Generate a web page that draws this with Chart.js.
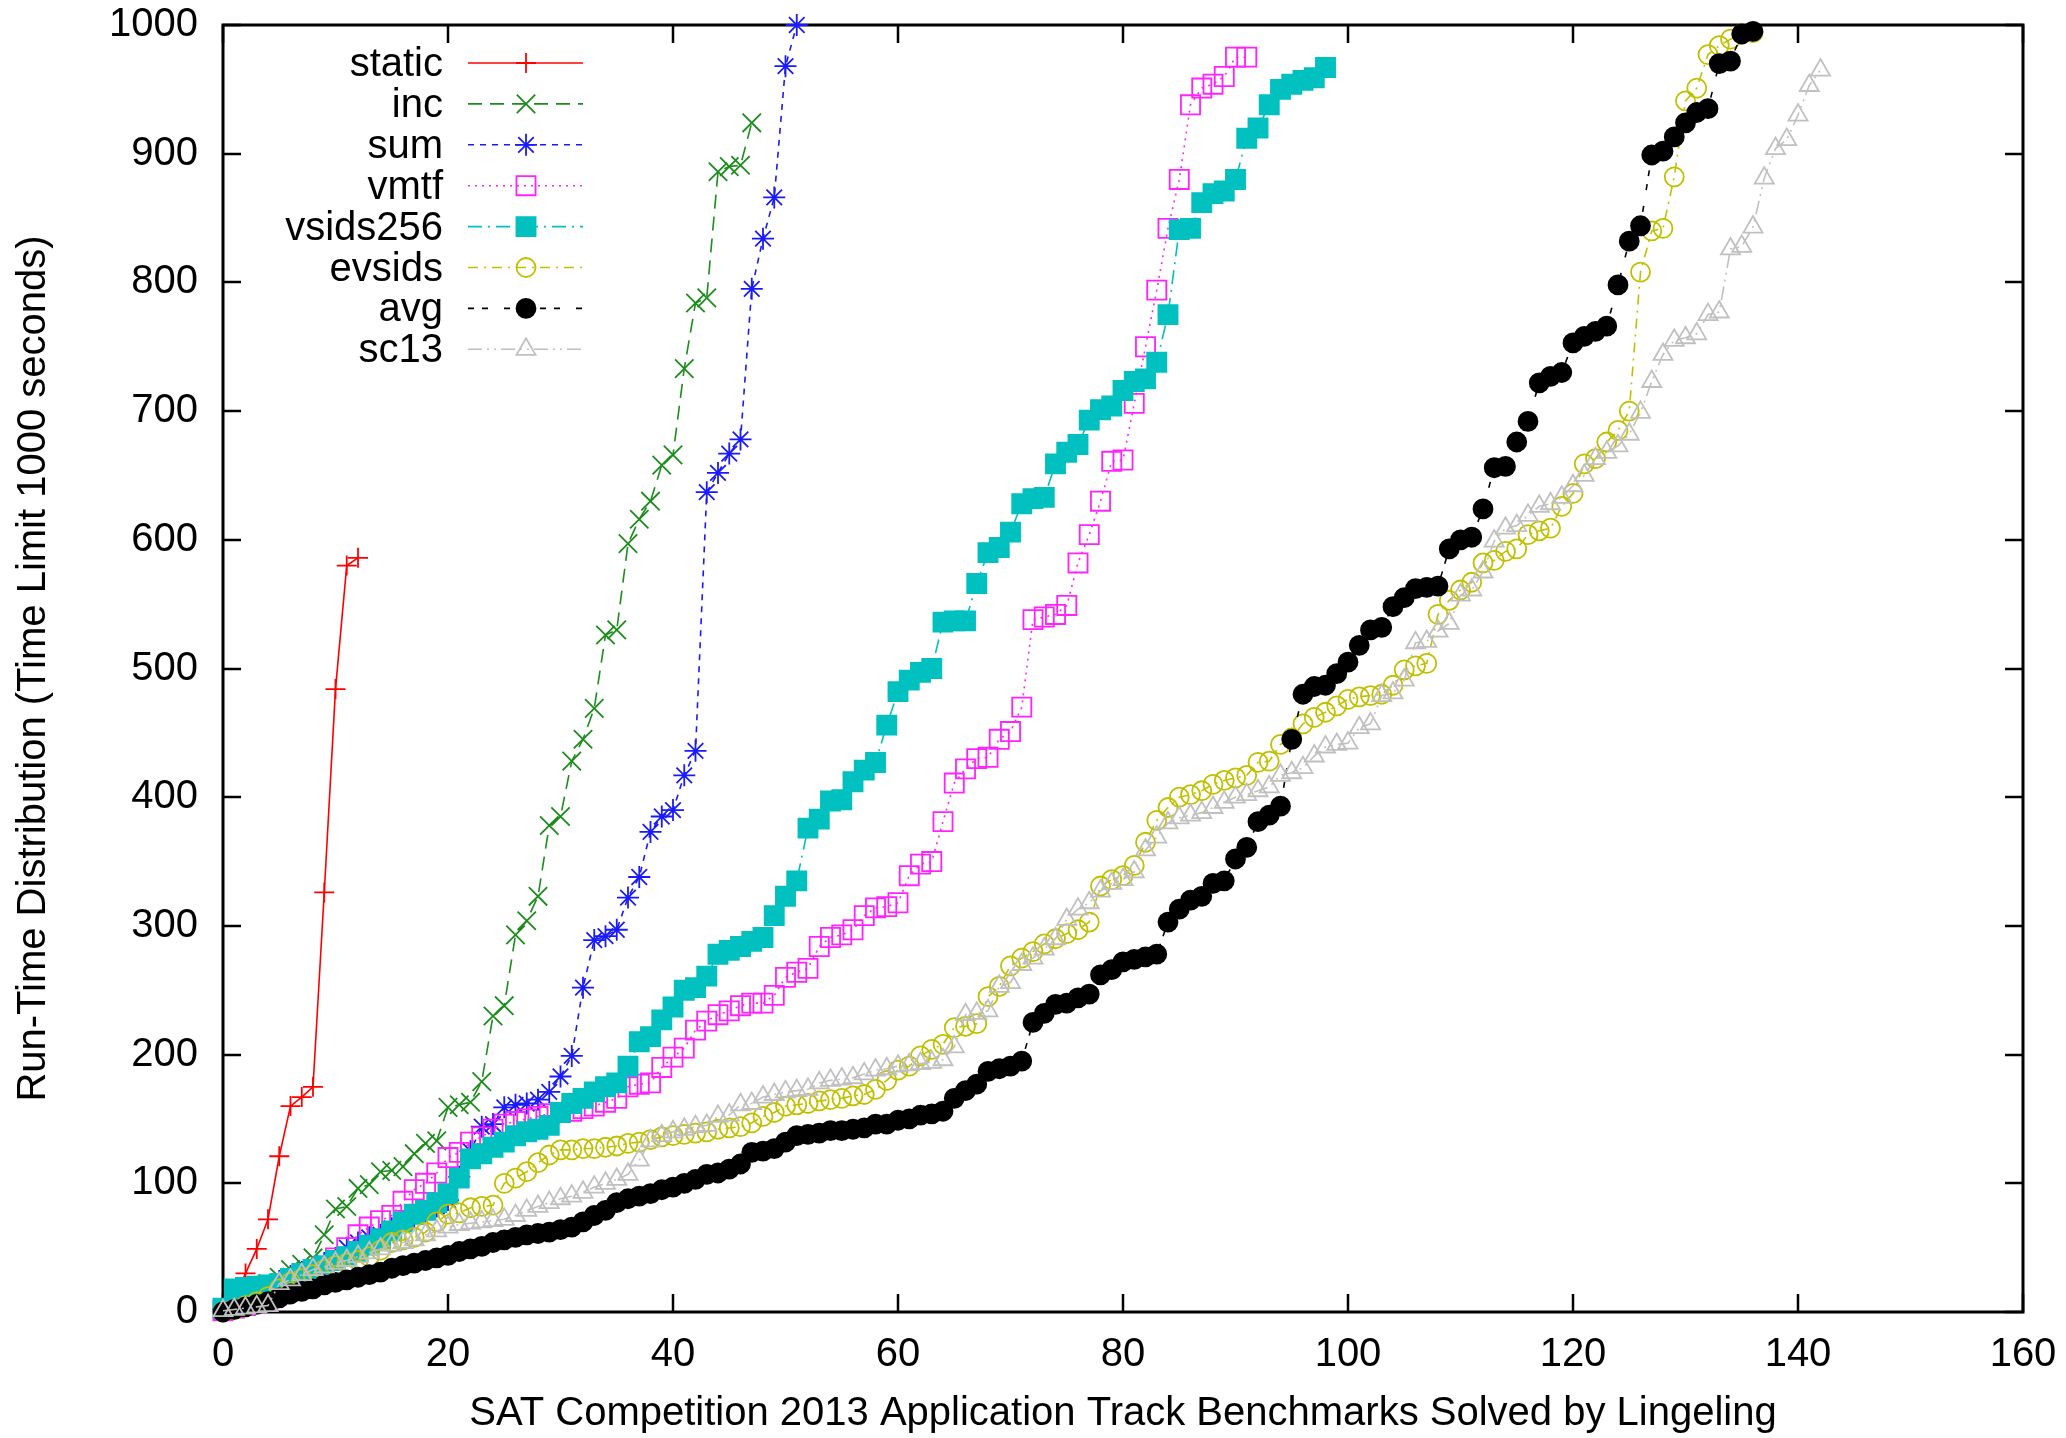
<!DOCTYPE html>
<html>
<head>
<meta charset="utf-8">
<title>Run-Time Distribution</title>
<script src="https://cdn.jsdelivr.net/npm/chart.js@4.4.1/dist/chart.umd.min.js"></script>
<style>
  html, body { margin: 0; padding: 0; background: #ffffff; }
  #wrap { width: 2066px; height: 1438px; }
</style>
</head>
<body>
<div id="wrap"><canvas id="rtd" width="2066" height="1438"></canvas></div>
<script>
// Axis ticks and titles
const X_TICKS = [0, 20, 40, 60, 80, 100, 120, 140, 160];
const Y_TICKS = [0, 100, 200, 300, 400, 500, 600, 700, 800, 900, 1000];
const X_TITLE = 'SAT Competition 2013 Application Track Benchmarks Solved by Lingeling';
const Y_TITLE = 'Run-Time Distribution (Time Limit 1000 seconds)';

// Run times (seconds), sorted; x is the number of solved benchmarks (index)
const staticTimes = [2, 10, 30, 49, 72, 121, 160, 167, 175, 326, 484, 580, 586];

const incTimes = [
  1, 5, 10, 15, 22, 27, 33, 37, 42, 60,
  80, 82, 96, 99, 109, 110, 113, 123, 131, 133,
  159, 161, 163, 179, 230, 238, 293, 304, 323, 378,
  385, 428, 445, 469, 526, 530, 597, 616, 630, 658,
  666, 733, 784, 788, 886, 890, 891, 924
];

const sumTimes = [
  2, 6, 10, 15, 20, 24, 28, 31, 34, 38,
  42, 50, 54, 58, 60, 65, 70, 74, 78, 82,
  87, 105, 125, 144, 146, 159, 161, 162, 165, 171,
  183, 199, 252, 289, 292, 297, 322, 338, 373, 385,
  390, 417, 436, 637, 652, 667, 678, 795, 834, 866,
  968, 1000
];

const vmtfTimes = [
  1, 3, 5, 7, 10, 14, 18, 23, 28, 35,
  42, 50, 60, 66, 71, 75, 86, 95, 100, 108,
  120, 124, 132, 136, 142, 146, 148, 150, 152, 154,
  155, 156, 158, 160, 163, 166, 175, 177, 178, 190,
  198, 205, 219, 226, 231, 234, 238, 240, 240, 246,
  260, 264, 267, 284, 291, 293, 297, 308, 314, 315,
  318, 339, 348, 350, 381, 411, 422, 430, 431, 445,
  451, 470, 538, 540, 542, 549, 582, 604, 630, 661,
  662, 706, 750, 794, 842, 880, 938, 951, 954, 960,
  975, 975
];

const vsids256Times = [
  3, 18, 19, 20, 21, 22, 26, 30, 33, 36,
  40, 43, 47, 52, 57, 63, 70, 76, 79, 85,
  92, 104, 119, 123, 128, 132, 137, 140, 142, 145,
  155, 162, 166, 171, 175, 178, 191, 210, 214, 227,
  237, 250, 252, 261, 278, 281, 284, 288, 291, 308,
  323, 335, 376, 383, 397, 398, 412, 421, 427, 456,
  482, 491, 497, 500, 536, 537, 537, 566, 590, 594,
  606, 628, 632, 633, 659, 668, 674, 693, 701, 704,
  716, 723, 725, 738, 775, 841, 842, 862, 869, 871,
  880, 912, 920, 938, 950, 954, 957, 959, 967
];

const evsidsTimes = [
  0, 2, 5, 8, 12, 18, 23, 26, 29, 33,
  36, 38, 40, 43, 48, 54, 56, 58, 62, 70,
  76, 77, 81, 82, 83, 100, 104, 109, 116, 122,
  126, 126, 127, 127, 128, 129, 131, 132, 134, 136,
  137, 138, 139, 140, 142, 143, 144, 147, 152, 155,
  160, 161, 162, 164, 165, 166, 168, 169, 173, 180,
  188, 191, 199, 204, 208, 221, 222, 224, 245, 253,
  269, 275, 280, 286, 290, 294, 297, 303, 331, 336,
  339, 347, 365, 382, 392, 400, 402, 405, 410, 413,
  415, 417, 427, 428, 441, 446, 457, 462, 466, 471,
  476, 478, 479, 480, 487, 499, 502, 504, 542, 553,
  561, 567, 582, 584, 591, 593, 604, 607, 609, 626,
  636, 659, 663, 676, 685, 700, 808, 840, 842, 882,
  941, 951, 977, 984, 989, 993, 994
];

const avgTimes = [
  0, 2, 4, 6, 8, 11, 14, 16, 18, 21,
  23, 25, 27, 29, 31, 34, 36, 38, 40, 42,
  44, 47, 49, 51, 54, 56, 58, 60, 61, 62,
  64, 66, 70, 75, 79, 85, 88, 90, 92, 95,
  97, 100, 103, 107, 108, 111, 115, 124, 125, 127,
  132, 137, 138, 139, 141, 141, 142, 143, 146, 146,
  149, 150, 153, 154, 156, 166, 172, 177, 187, 189,
  191, 195, 225, 232, 239, 240, 244, 247, 262, 266,
  272, 274, 276, 278, 303, 313, 320, 323, 333, 335,
  352, 361, 381, 386, 393, 445, 480, 486, 487, 496,
  505, 518, 530, 532, 548, 555, 562, 563, 564, 593,
  600, 602, 624, 656, 657, 676, 692, 722, 727, 730,
  753, 758, 762, 766, 798, 832, 844, 899, 902, 913,
  924, 932, 935, 970, 972, 993, 995
];

const sc13Times = [
  1, 2, 3, 4, 5, 22, 25, 29, 33, 35,
  38, 40, 43, 46, 49, 52, 54, 56, 60, 63,
  66, 68, 69, 70, 71, 72, 75, 79, 82, 85,
  88, 90, 93, 97, 100, 103, 107, 118, 133, 137,
  140, 142, 144, 145, 152, 153, 161, 162, 167, 169,
  171, 172, 173, 178, 180, 181, 182, 185, 188, 189,
  191, 192, 193, 194, 196, 206, 231, 232, 234, 253,
  256, 270, 275, 282, 290, 305, 313, 318, 327, 333,
  336, 342, 359, 369, 380, 384, 386, 388, 392, 396,
  400, 402, 405, 408, 417, 419, 423, 432, 439, 441,
  442, 454, 457, 479, 481, 491, 520, 521, 529, 535,
  557, 561, 575, 599, 609, 611, 619, 626, 628, 633,
  642, 650, 663, 668, 673, 682, 699, 723, 744, 755,
  757, 760, 775, 777, 826, 828, 843, 881, 904, 911,
  930, 953, 965
];

const FONT = "'Liberation Sans', Arial, Helvetica, sans-serif";
const FONT_SIZE = 40;
const CLEAR = 'rgba(0,0,0,0)';

// gnuplot-like line/point styles, one per series
const SERIES = [
  { label: 'static',   data: staticTimes,   color: '#ff0000', point: 'cross',    radius: 10,   solid: false, dash: [] },
  { label: 'inc',      data: incTimes,      color: '#1c8c1c', point: 'crossRot', radius: 13,   solid: false, dash: [14, 8] },
  { label: 'sum',      data: sumTimes,      color: '#1a1aff', point: 'star',     radius: 11,   solid: false, dash: [6, 6] },
  { label: 'vmtf',     data: vmtfTimes,     color: '#ff22ff', point: 'rect',     radius: 13.5, solid: false, dash: [2, 5] },
  { label: 'vsids256', data: vsids256Times, color: '#00c0c0', point: 'rect',     radius: 13.5, solid: true,  dash: [14, 6, 2, 6] },
  { label: 'evsids',   data: evsidsTimes,   color: '#c0c000', point: 'circle',   radius: 9.5,  solid: false, dash: [10, 6, 2, 6] },
  { label: 'avg',      data: avgTimes,      color: '#000000', point: 'circle',   radius: 9.5,  solid: true,  dash: [6, 8, 6, 16] },
  { label: 'sc13',     data: sc13Times,     color: '#c0c0c0', point: 'triangle', radius: 11,   solid: false, dash: [14, 5, 2, 5, 2, 5] }
];

// Border box with inward ticks on all four sides
const framePlugin = {
  id: 'frame',
  beforeDatasetsDraw(chart) {
    const { ctx, chartArea: a, scales } = chart;
    const len = 18;
    ctx.save();
    ctx.strokeStyle = '#000';
    ctx.lineWidth = 2.5;
    ctx.beginPath();
    Y_TICKS.forEach(v => {
      const y = Math.round(scales.y.getPixelForValue(v));
      ctx.moveTo(a.left, y); ctx.lineTo(a.left + len, y);
      ctx.moveTo(a.right, y); ctx.lineTo(a.right - len, y);
    });
    X_TICKS.forEach(v => {
      const x = Math.round(scales.x.getPixelForValue(v));
      ctx.moveTo(x, a.bottom); ctx.lineTo(x, a.bottom - len);
      ctx.moveTo(x, a.top); ctx.lineTo(x, a.top + len);
    });
    ctx.stroke();
    ctx.lineWidth = 3;
    ctx.strokeRect(a.left, a.top, a.right - a.left, a.bottom - a.top);
    ctx.restore();
  }
};

// gnuplot style key: label right-aligned, then line sample with the marker
const keyPlugin = {
  id: 'key',
  afterDatasetsDraw(chart) {
    const ctx = chart.ctx;
    const textRight = 443, lineFrom = 468, lineTo = 583, markX = 526;
    const top = 63, step = 40.9;
    chart.data.datasets.forEach((ds, i) => {
      const y = top + i * step;
      ctx.save();
      ctx.font = FONT_SIZE + 'px ' + FONT;
      ctx.fillStyle = '#000';
      ctx.textAlign = 'right';
      ctx.textBaseline = 'middle';
      ctx.fillText(ds.label, textRight, y + 2);

      ctx.strokeStyle = ds.borderColor;
      ctx.lineWidth = ds.borderWidth;
      ctx.setLineDash(ds.borderDash);
      ctx.beginPath();
      ctx.moveTo(lineFrom, y);
      ctx.lineTo(lineTo, y);
      ctx.stroke();
      ctx.setLineDash([]);

      ctx.strokeStyle = ds.pointBorderColor;
      ctx.fillStyle = ds.pointBackgroundColor;
      ctx.lineWidth = ds.pointBorderWidth;
      Chart.helpers.drawPoint(ctx, {
        pointStyle: ds.pointStyle,
        radius: ds.pointRadius,
        borderWidth: ds.pointBorderWidth,
        rotation: 0
      }, markX, y);
      ctx.restore();
    });
  }
};

const datasets = SERIES.map((s, i) => ({
  label: s.label,
  data: s.data.map((t, n) => ({ x: n, y: t })),
  borderColor: s.color,
  borderWidth: 1.6,
  borderDash: s.dash,
  pointStyle: s.point,
  pointRadius: s.radius,
  pointHoverRadius: s.radius,
  pointBorderColor: s.color,
  pointBackgroundColor: s.solid ? s.color : CLEAR,
  pointBorderWidth: 1.8,
  tension: 0,
  fill: false,
  clip: false,
  order: SERIES.length - i   // first series underneath, as gnuplot does
}));

const axisFont = { family: FONT, size: FONT_SIZE };

new Chart(document.getElementById('rtd').getContext('2d'), {
  type: 'line',
  data: { datasets },
  options: {
    responsive: false,
    animation: false,
    devicePixelRatio: 1,
    layout: { padding: { top: 25, right: 43, left: 0, bottom: 0 } },
    plugins: {
      legend: { display: false },
      tooltip: { enabled: false }
    },
    scales: {
      x: {
        type: 'linear',
        min: 0,
        max: 160,
        grid: { display: false, drawTicks: false },
        border: { display: false },
        afterBuildTicks: s => { s.ticks = X_TICKS.map(v => ({ value: v })); },
        afterFit: s => { s.height = 126; s.paddingLeft = 0; s.paddingRight = 0; },
        ticks: { font: axisFont, color: '#000', padding: 19, maxRotation: 0, autoSkip: false,
                 callback: v => String(v) },
        title: { display: true, text: X_TITLE, font: axisFont, color: '#000', padding: { top: 0, bottom: 0 } }
      },
      y: {
        type: 'linear',
        min: 0,
        max: 1000,
        grid: { display: false, drawTicks: false },
        border: { display: false },
        afterBuildTicks: s => { s.ticks = Y_TICKS.map(v => ({ value: v })); },
        afterFit: s => { s.width = 223; s.paddingTop = 0; s.paddingBottom = 0; },
        ticks: { font: axisFont, color: '#000', padding: 25, autoSkip: false,
                 callback: v => String(v) },
        title: { display: true, text: Y_TITLE, font: axisFont, color: '#000', padding: { top: 10, bottom: 0 } }
      }
    }
  },
  plugins: [framePlugin, keyPlugin]
});
</script>
</body>
</html>
